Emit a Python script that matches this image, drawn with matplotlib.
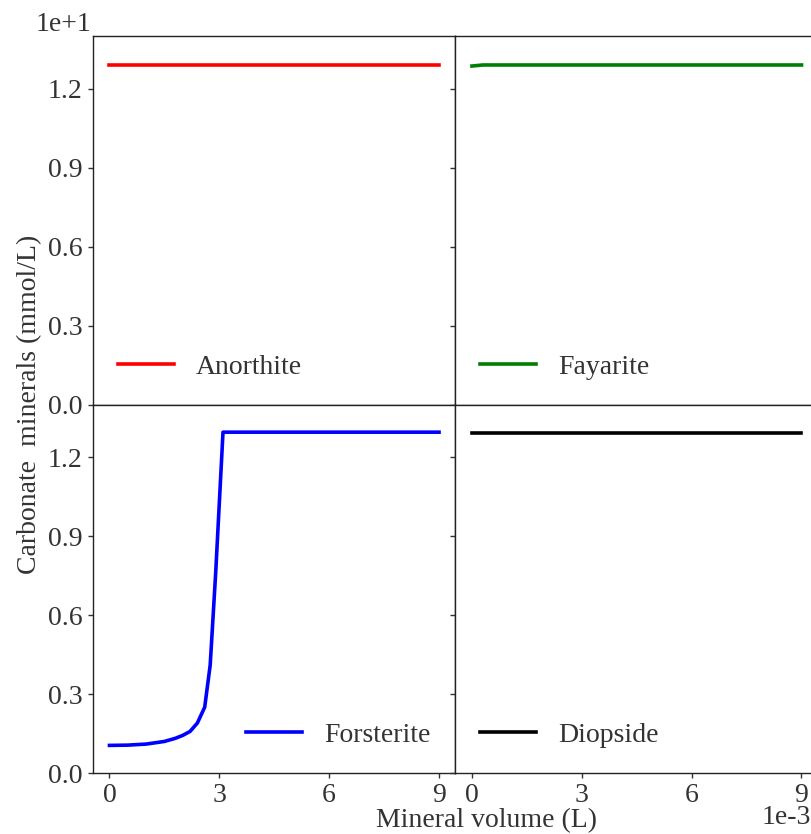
import matplotlib
matplotlib.use('Agg')
from matplotlib import pyplot as plt
from matplotlib.ticker import FuncFormatter

plt.rcParams['font.family'] = ['Liberation Serif', 'DejaVu Serif']
plt.rcParams['font.size'] = 20
plt.rcParams['text.color'] = '#333333'
plt.rcParams['xtick.color'] = '#333333'
plt.rcParams['ytick.color'] = '#333333'
plt.rcParams['axes.labelcolor'] = '#333333'

# mineral volume (L) and carbonate minerals (mmol/L)
volume_flat = [0.0, 0.009]
anorthite = [12.9, 12.9]
fayarite_x = [0.0, 0.0003, 0.009]
fayarite = [12.86, 12.9, 12.9]
diopside = [12.9, 12.9]

forsterite_x = [0.0, 0.0005, 0.001, 0.0015, 0.0018, 0.002, 0.0022, 0.0024,
                0.0026, 0.00275, 0.0029, 0.0031, 0.0045, 0.006, 0.0075, 0.009]
forsterite = [1.05, 1.06, 1.10, 1.20, 1.32, 1.43, 1.58, 1.90,
              2.50, 4.10, 7.6, 12.95, 12.95, 12.95, 12.95, 12.95]

panels = [
    (volume_flat, anorthite, 'red', 'Anorthite'),
    (fayarite_x, fayarite, 'green', 'Fayarite'),
    (forsterite_x, forsterite, 'blue', 'Forsterite'),
    (volume_flat, diopside, 'black', 'Diopside'),
]

fig, axes = plt.subplots(2, 2, sharex=True, sharey=True, figsize=(8.11, 8.34), dpi=100)
fig.subplots_adjust(left=0.1147, right=1.0086, top=0.9568, bottom=0.0731,
                    wspace=0, hspace=0)

for ax, (x, y, c, name) in zip(axes.flat, panels):
    ax.plot(x, y, color=c, lw=2.6, label=name)
    ax.legend(loc='best', frameon=False, fontsize=20)
    for s in ax.spines.values():
        s.set_color('#222222')
        s.set_linewidth(1.0)
    ax.tick_params(direction='out', length=3.5, width=1, labelsize=20, pad=4)

ax0 = axes[0, 0]
ax0.set_xlim(-0.00045, 0.00945)
ax0.set_ylim(0, 14)
ax0.set_xticks([0, 0.003, 0.006, 0.009])
ax0.set_yticks([0, 3, 6, 9, 12])
ax0.xaxis.set_major_formatter(FuncFormatter(lambda v, p: '%d' % round(v * 1000)))
ax0.yaxis.set_major_formatter(FuncFormatter(lambda v, p: '%.1f' % (v / 10)))
for ax in axes[0]:
    ax.tick_params(axis='x', bottom=False)

fig.text(0.078, 0.971, '1e+1', ha='center', va='center', fontsize=20)
fig.text(1.0, 0.020, '1e-3', ha='right', va='center', fontsize=20)
fig.text(0.600, 0.016, 'Mineral volume (L)', ha='center', va='center', fontsize=20)
fig.text(0.037, 0.515, 'Carbonate  minerals (mmol/L)', ha='center', va='center',
         rotation=90, fontsize=20)

fig.savefig('out.png', dpi=100)
